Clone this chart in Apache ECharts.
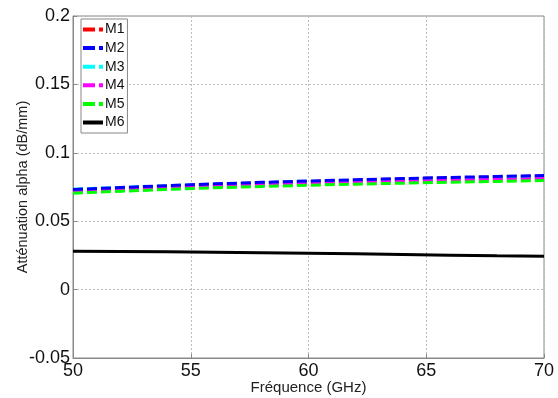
<!DOCTYPE html>
<html><head><meta charset="utf-8">
<script src="https://cdn.jsdelivr.net/npm/echarts@6/dist/echarts.min.js"></script>
<style>html,body{margin:0;padding:0;background:#fff}#c{width:558px;height:398px}</style>
</head><body><div id="c"></div>
<script>
const freq = [50, 52, 54, 56, 58, 60, 62, 64, 66, 68, 70];
const M1 = [0.0728, 0.0742, 0.0756, 0.0769, 0.0780, 0.0790, 0.0799, 0.0808, 0.0816, 0.0823, 0.0830];
const M2 = [0.0732, 0.0746, 0.0760, 0.0773, 0.0784, 0.0794, 0.0803, 0.0812, 0.0820, 0.0827, 0.0834];
const M3 = [0.0734, 0.0746, 0.0758, 0.0769, 0.0778, 0.0787, 0.0795, 0.0803, 0.0810, 0.0816, 0.0822];
const M4 = [0.0716, 0.0730, 0.0744, 0.0756, 0.0766, 0.0776, 0.0784, 0.0792, 0.0799, 0.0806, 0.0812];
const M5 = [0.0705, 0.0719, 0.0732, 0.0744, 0.0754, 0.0763, 0.0771, 0.0778, 0.0785, 0.0791, 0.0797];
const M6 = [0.0280, 0.0278, 0.0276, 0.0273, 0.0270, 0.0266, 0.0262, 0.0257, 0.0252, 0.0247, 0.0243];
const names = ['M1', 'M2', 'M3', 'M4', 'M5', 'M6'];
const colors = ['#ff0000', '#0000ff', '#00ffff', '#ff00ff', '#00ff00', '#000000'];
const allData = [M1, M2, M3, M4, M5, M6];

const dashIcon = 'path://M0,0H12V4H0Z M16,0H20V4H16Z';
const solidIcon = 'path://M0,0H20V4H0Z';

const chart = echarts.init(document.getElementById('c'), null, {renderer: 'canvas'});
chart.setOption({
  animation: false,
  grid: {left: 73, right: 14, top: 16, bottom: 40, containLabel: false, outerBoundsMode: 'none',
         show: true, borderColor: '#888', borderWidth: 1, backgroundColor: 'transparent'},
  legend: {
    orient: 'vertical', left: 81, top: 19,
    backgroundColor: '#fff', borderColor: '#888', borderWidth: 1,
    padding: [3, 3, 3, 2], itemGap: 3.6, itemWidth: 20, itemHeight: 4,
    textStyle: {fontFamily: 'Liberation Sans, Arial', fontSize: 14, lineHeight: 15, color: '#111', padding: [0, 0, 0, -3]},
    data: names.map((n, i) => ({name: n, icon: i === 5 ? solidIcon : dashIcon}))
  },
  xAxis: {
    type: 'value', min: 50, max: 70, interval: 5,
    name: 'Fréquence (GHz)', nameLocation: 'middle', nameGap: 22, nameMoveOverlap: false,
    nameTextStyle: {fontFamily: 'Liberation Sans, Arial', fontSize: 15, color: '#222'},
    axisLine: {show: true, onZero: false, lineStyle: {color: '#888', width: 1}},
    axisTick: {show: true, inside: true, length: 4, lineStyle: {color: '#888'}},
    axisLabel: {fontFamily: 'Liberation Sans, Arial', fontSize: 18, color: '#111', margin: 4},
    splitLine: {show: true, lineStyle: {color: '#bbb', type: [2, 2], width: 1}}
  },
  yAxis: {
    type: 'value', min: -0.05, max: 0.2, interval: 0.05,
    name: 'Atténuation alpha (dB/mm)', nameLocation: 'middle', nameGap: 43, nameMoveOverlap: false,
    nameTextStyle: {fontFamily: 'Liberation Sans, Arial', fontSize: 14.5, color: '#222'},
    axisLine: {show: true, onZero: false, lineStyle: {color: '#888', width: 1}},
    axisTick: {show: true, inside: true, length: 4, lineStyle: {color: '#888'}},
    axisLabel: {fontFamily: 'Liberation Sans, Arial', fontSize: 18, color: '#111', margin: 3,
      formatter: v => String(parseFloat(v.toFixed(2)))},
    splitLine: {show: true, lineStyle: {color: '#bbb', type: [2, 2], width: 1}}
  },
  series: names.map((n, i) => ({
    name: n, type: 'line', showSymbol: false, symbol: 'none',
    data: freq.map((f, j) => [f, allData[i][j]]),
    lineStyle: {color: colors[i], width: 3, type: i === 5 ? 'solid' : [10, 4]},
    itemStyle: {color: colors[i]},
    z: i === 1 ? 10 : 2 + i
  }))
});
</script></body></html>
